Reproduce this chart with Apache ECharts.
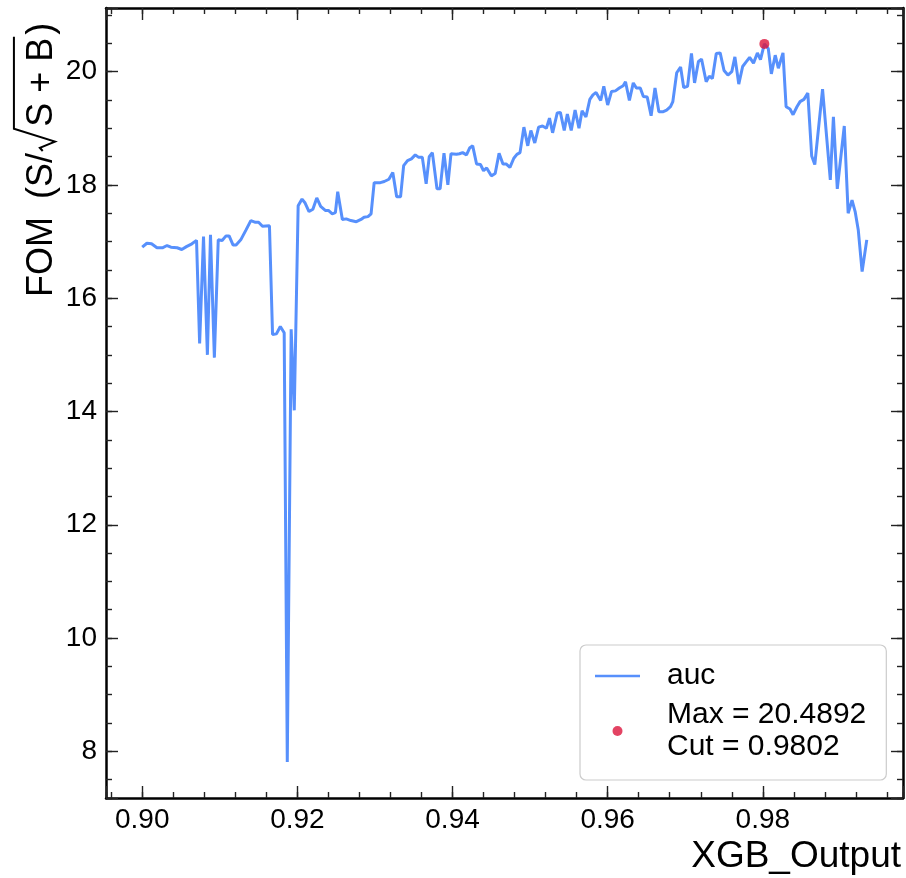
<!DOCTYPE html>
<html>
<head>
<meta charset="utf-8">
<script src="https://cdn.jsdelivr.net/npm/echarts@6/dist/echarts.min.js"></script>
<style>
  html, body { margin: 0; padding: 0; background: #fff; }
  #chart { width: 906px; height: 878px; }
</style>
</head>
<body>
<div id="chart"></div>
<script>
// XGB output cut value scanned against the figure of merit S/sqrt(S+B)
const cutValues = [
  0.9000,0.9006,0.9012,0.9019,0.9026,0.9032,0.9037,0.9045,0.9051,0.9057,
  0.9064,0.9070,0.9074,0.9079,0.9084,0.9088,0.9093,0.9098,0.9103,0.9108,
  0.9112,0.9117,0.9121,0.9127,0.9134,0.9140,0.9146,0.9150,0.9155,0.9164,
  0.9168,0.9173,0.9178,0.9183,0.9187,0.9192,0.9196,0.9201,0.9206,0.9210,
  0.9215,0.9220,0.9225,0.9230,0.9236,0.9240,0.9245,0.9249,0.9252,0.9258,
  0.9263,0.9269,0.9276,0.9282,0.9286,0.9291,0.9295,0.9299,0.9307,0.9312,
  0.9318,0.9323,0.9328,0.9333,0.9337,0.9342,0.9347,0.9352,0.9356,0.9361,
  0.9366,0.9370,0.9374,0.9380,0.9384,0.9389,0.9394,0.9398,0.9405,0.9409,
  0.9413,0.9418,0.9422,0.9426,0.9431,0.9436,0.9440,0.9444,0.9450,0.9455,
  0.9460,0.9465,0.9469,0.9474,0.9479,0.9483,0.9487,0.9492,0.9497,0.9501,
  0.9506,0.9511,0.9516,0.9521,0.9525,0.9529,0.9535,0.9539,0.9544,0.9548,
  0.9553,0.9558,0.9563,0.9567,0.9572,0.9577,0.9581,0.9585,0.9591,0.9595,
  0.9600,0.9605,0.9610,0.9615,0.9620,0.9623,0.9628,0.9633,0.9637,0.9642,
  0.9646,0.9651,0.9656,0.9661,0.9666,0.9671,0.9676,0.9681,0.9684,0.9689,
  0.9694,0.9698,0.9703,0.9708,0.9712,0.9717,0.9721,0.9727,0.9731,0.9735,
  0.9740,0.9745,0.9750,0.9755,0.9760,0.9764,0.9769,0.9774,0.9779,0.9783,
  0.9788,0.9793,0.9797,0.9802,0.9807,0.9811,0.9816,0.9820,0.9826,0.9830,
  0.9835,0.9839,0.9844,0.9848,0.9853,0.9858,0.9863,0.9867,0.9877,0.9887,
  0.9891,0.9896,0.9905,0.9910,0.9915,0.9919,0.9923,0.9928,0.9934
];

const fomValues = [
  16.90,16.97,16.96,16.89,16.89,16.93,16.90,16.89,16.86,16.91,
  16.96,17.02,15.20,17.09,15.00,17.12,14.95,17.03,17.02,17.10,
  17.10,16.94,16.94,17.03,17.21,17.37,17.34,17.34,17.27,17.28,
  15.36,15.37,15.50,15.39,7.81,15.45,14.02,17.63,17.75,17.68,
  17.53,17.57,17.77,17.62,17.55,17.55,17.49,17.51,17.88,17.39,
  17.40,17.37,17.35,17.39,17.43,17.44,17.49,18.04,18.04,18.06,
  18.10,18.22,17.79,17.79,18.34,18.43,18.46,18.53,18.49,18.49,
  18.02,18.50,18.57,17.93,17.93,18.56,18.00,18.55,18.54,18.55,
  18.57,18.53,18.65,18.69,18.37,18.36,18.25,18.30,18.16,18.20,
  18.56,18.37,18.37,18.31,18.47,18.54,18.57,19.02,18.69,18.96,
  18.74,19.02,19.04,19.00,19.18,18.92,19.27,19.28,18.96,19.25,
  18.96,19.32,19.00,19.31,19.20,19.51,19.59,19.63,19.49,19.74,
  19.41,19.65,19.66,19.71,19.75,19.82,19.49,19.80,19.71,19.71,
  19.56,19.55,19.22,19.71,19.29,19.29,19.32,19.38,19.47,19.98,
  20.08,19.72,19.74,20.32,19.80,20.18,20.22,19.82,19.92,19.88,
  20.32,20.33,20.02,19.94,20.00,20.26,19.78,20.09,20.18,20.25,
  20.15,20.33,20.21,20.4892,20.41,19.96,20.29,20.06,20.33,19.38,
  19.34,19.24,19.38,19.47,19.51,19.62,18.51,18.36,19.69,18.09,
  19.20,17.93,19.04,17.50,17.73,17.53,17.21,16.47,17.03
];

const xTickValues = [0.90, 0.92, 0.94, 0.96, 0.98];
const yTickValues = [8, 10, 12, 14, 16, 18, 20];

const seriesName = 'auc';
const xTitle = 'XGB_Output';

// ---- derived values ----
const lineData = cutValues.map((x, i) => [x, fomValues[i]]);
let best = 0;
fomValues.forEach((v, i) => { if (v > fomValues[best]) best = i; });
const bestFom = fomValues[best];
const bestCut = cutValues[best];
const bestName = 'Max = ' + bestFom.toFixed(4) + '\nCut = ' + bestCut.toFixed(4);

// axis extents: data range padded by 5% on every side
const padX = (cutValues[cutValues.length - 1] - cutValues[0]) * 0.05;
const yMinData = Math.min.apply(null, fomValues);
const padY = (bestFom - yMinData) * 0.05;
const X_MIN = cutValues[0] - padX, X_MAX = cutValues[cutValues.length - 1] + padX;
const Y_MIN = yMinData - padY, Y_MAX = bestFom + padY;

const FONT = '"Liberation Sans", Arial, Helvetica, sans-serif';
const BLUE = '#5790fc';
const RED = '#dc143c';
const TICK_COLOR = '#222';

function isTick(list, v) {
  return list.some(t => Math.abs(t - v) < 1e-7);
}

function xAxisDef(position, step, len, labels, line) {
  return {
    type: 'value', position: position, min: X_MIN, max: X_MAX,
    minInterval: step, maxInterval: step, splitNumber: 5,
    splitLine: { show: false },
    axisLine: { show: line, onZero: false, lineStyle: { color: '#000', width: 2.5 } },
    axisTick: { show: true, inside: true, length: len, lineStyle: { color: TICK_COLOR, width: 1.4 } },
    axisLabel: {
      show: labels, margin: 8, fontSize: 28, fontFamily: FONT, color: '#000',
      formatter: v => isTick(xTickValues, v) ? v.toFixed(2) : ''
    },
    silent: true
  };
}

function yAxisDef(position, step, len, labels, line) {
  return {
    type: 'value', position: position, min: Y_MIN, max: Y_MAX,
    minInterval: step, maxInterval: step, splitNumber: 5,
    splitLine: { show: false },
    axisLine: { show: line, onZero: false, lineStyle: { color: '#000', width: 2.5 } },
    axisTick: { show: true, inside: true, length: len, lineStyle: { color: TICK_COLOR, width: 1.4 } },
    axisLabel: {
      show: labels, margin: 9, fontSize: 28, fontFamily: FONT, color: '#000',
      formatter: v => isTick(yTickValues, v) ? String(Math.round(v)) : ''
    },
    silent: true
  };
}

// y title: FOM (S/sqrt(S+B)), the radical drawn as a stroke with its bar over S+B
const YT = 36;                       // title font size
const measure = document.createElement('canvas').getContext('2d');
measure.font = YT + 'px ' + FONT;
const tFom = 'FOM', tOpen = '(S/', tRoot = 'S + B', tClose = ')';
const wFom = measure.measureText(tFom).width;
const wOpen = measure.measureText(tOpen).width;
const wRoot = measure.measureText(tRoot).width;
const gapFom = 0.5 * YT;
const xOpen = wFom + gapFom;
const xRad = xOpen + wOpen + 2;
const radW = 0.62 * YT;
const xRoot = xRad + radW + 2;
const xClose = xRoot + wRoot + 3;
const barY = -0.78 * YT;
const titleStyle = { fontSize: YT, fontFamily: FONT, fill: '#000', align: 'left', verticalAlign: 'middle' };
const radical = [
  [xRad, 0.02 * YT],
  [xRad + 0.09 * YT, -0.06 * YT],
  [xRad + 0.26 * YT, 0.36 * YT],
  [xRad + radW, barY],
  [xRoot + wRoot + 1, barY]
];

const chart = echarts.init(document.getElementById('chart'), null, { renderer: 'canvas' });
chart.setOption({
  animation: false,
  backgroundColor: '#fff',
  grid: { left: 106, right: 3, top: 8, bottom: 80, containLabel: false },
  xAxis: [
    xAxisDef('bottom', 0.02, 12, true, true),
    xAxisDef('bottom', 0.004, 6, false, false),
    xAxisDef('top', 0.02, 12, false, true),
    xAxisDef('top', 0.004, 6, false, false)
  ],
  yAxis: [
    yAxisDef('left', 2, 12, true, true),
    yAxisDef('left', 0.5, 6, false, false),
    yAxisDef('right', 2, 12, false, true),
    yAxisDef('right', 0.5, 6, false, false)
  ],
  legend: {
    left: 580, top: 645, orient: 'vertical',
    padding: [15, 20, 17, 15],
    itemWidth: 45, itemHeight: 10, itemGap: 7,
    backgroundColor: '#fff', borderColor: '#cccccc', borderWidth: 1.2, borderRadius: 6,
    selectedMode: false,
    textStyle: { fontSize: 30, fontFamily: FONT, color: '#000', lineHeight: 32, padding: [0, 0, 0, 22] },
    data: [
      { name: seriesName, icon: 'path://M0 0H45V2.6H0Z' },
      { name: bestName, icon: 'circle' }
    ]
  },
  series: [
    {
      type: 'line', name: seriesName, data: lineData,
      xAxisIndex: 0, yAxisIndex: 0,
      symbol: 'none', showSymbol: false,
      lineStyle: { color: BLUE, width: 3 }, itemStyle: { color: BLUE },
      z: 2, silent: true
    },
    {
      type: 'scatter', name: bestName, data: [[bestCut, bestFom]],
      xAxisIndex: 0, yAxisIndex: 0,
      symbol: 'circle', symbolSize: 10,
      itemStyle: { color: RED }, z: 3, silent: true
    }
  ],
  graphic: [
    {
      type: 'text', x: 901, y: 857, silent: true,
      style: { text: xTitle, fontSize: 37, fontFamily: FONT, fill: '#000', align: 'right', verticalAlign: 'middle' }
    },
    {
      type: 'group', x: 42, y: 297, rotation: Math.PI / 2, silent: true,
      children: [
        { type: 'text', x: 0, y: 0, style: Object.assign({ text: tFom }, titleStyle) },
        { type: 'text', x: xOpen, y: 0, style: Object.assign({ text: tOpen }, titleStyle) },
        { type: 'polyline', shape: { points: radical }, style: { stroke: '#000', lineWidth: 2, fill: null, lineJoin: 'miter' } },
        { type: 'text', x: xRoot, y: 0, style: Object.assign({ text: tRoot }, titleStyle) },
        { type: 'text', x: xClose, y: 0, style: Object.assign({ text: tClose }, titleStyle) }
      ]
    }
  ]
});
</script>
</body>
</html>
